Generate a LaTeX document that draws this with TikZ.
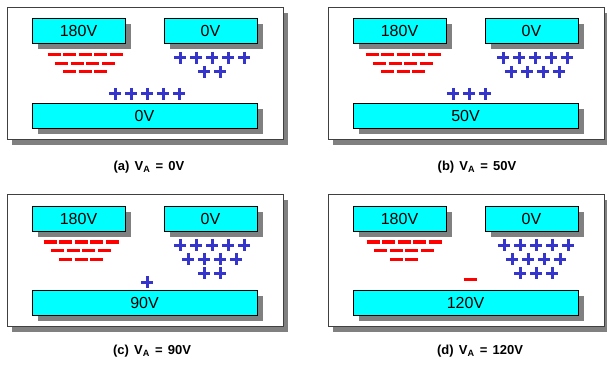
\documentclass[tikz,border=0pt]{standalone}
\usepackage{fontspec}
\setmainfont{Liberation Sans}
\usetikzlibrary{shadows, positioning}
\definecolor{platecyan}{HTML}{00FFFF}
\definecolor{chargeblue}{HTML}{3535CC}
\definecolor{chargered}{HTML}{FF0000}
\definecolor{shadowgray}{HTML}{808080}

\begin{document}
\begin{tikzpicture}[x=1pt, y=-1pt,
  panel/.style={rectangle, draw=black!75, line width=0.8pt, fill=white, minimum width=276pt, minimum height=132pt, inner sep=0pt, drop shadow={shadow xshift=5pt, shadow yshift=-6pt, fill=shadowgray, opacity=1}},
  plate/.style={rectangle, draw=black, line width=0.8pt, fill=platecyan, minimum height=25pt, inner sep=0pt, font=\fontsize{16}{16}\selectfont, drop shadow={shadow xshift=6pt, shadow yshift=-6pt, fill=shadowgray, opacity=1}},
  smallplate/.style={plate, minimum width=93pt},
  wideplate/.style={plate, minimum width=225pt},
  negcharge/.style={draw=chargered, line width=3pt},
  poscharge/.style={draw=chargeblue, line width=3pt},
  caption/.style={font=\fontsize{13}{13}\selectfont\bfseries}
]
\useasboundingbox (0,0) rectangle (607,371);

% (a) V_A = 0V
\begin{scope}[shift={(7,7)}]
\node[panel] (fa) at (138,66) {};
\node[smallplate] (a180) at (71.5,23.5) {180V};
\node[smallplate] (a0) at (203.5,23.5) {0V};
\node[wideplate] (aA) at (137.5,108.5) {0V};
\foreach \i in {0,...,4} \draw[negcharge] ({47+15.5*\i},48) +(-6.5,0) -- +(6.5,0);
\foreach \i in {0,...,3} \draw[negcharge] ({54.75+15.5*\i},56.5) +(-6.5,0) -- +(6.5,0);
\foreach \i in {0,...,2} \draw[negcharge] ({62.5+15.5*\i},65) +(-6.5,0) -- +(6.5,0);
\foreach \i in {0,...,4} \draw[poscharge] ({173+16*\i},51) +(-6,0) -- +(6,0) +(0,-6) -- +(0,6);
\foreach \i in {0,...,1} \draw[poscharge] ({197+16*\i},65) +(-6,0) -- +(6,0) +(0,-6) -- +(0,6);
\foreach \i in {0,...,4} \draw[poscharge] ({108+16*\i},87) +(-6,0) -- +(6,0) +(0,-6) -- +(0,6);
\end{scope}
\node[caption] (capa) at (149,167) {(a)\hspace{0.4em}V\textsubscript{A}\hspace{0.4em}=\hspace{0.4em}0V};

% (b) V_A = 50V
\begin{scope}[shift={(328,7)}]
\node[panel] (fb) at (138,66) {};
\node[smallplate] (b180) at (71.5,23.5) {180V};
\node[smallplate] (b0) at (203.5,23.5) {0V};
\node[wideplate] (bA) at (137.5,108.5) {50V};
\foreach \i in {0,...,4} \draw[negcharge] ({44+15.5*\i},48) +(-6.5,0) -- +(6.5,0);
\foreach \i in {0,...,3} \draw[negcharge] ({51.75+15.5*\i},56.5) +(-6.5,0) -- +(6.5,0);
\foreach \i in {0,...,2} \draw[negcharge] ({59.5+15.5*\i},65) +(-6.5,0) -- +(6.5,0);
\foreach \i in {0,...,4} \draw[poscharge] ({175+16*\i},51) +(-6,0) -- +(6,0) +(0,-6) -- +(0,6);
\foreach \i in {0,...,3} \draw[poscharge] ({183+16*\i},65) +(-6,0) -- +(6,0) +(0,-6) -- +(0,6);
\foreach \i in {0,...,2} \draw[poscharge] ({125+16*\i},87) +(-6,0) -- +(6,0) +(0,-6) -- +(0,6);
\end{scope}
\node[caption] (capb) at (477,167) {(b)\hspace{0.4em}V\textsubscript{A}\hspace{0.4em}=\hspace{0.4em}50V};

% (c) V_A = 90V
\begin{scope}[shift={(7,194)}]
\node[panel] (fc) at (138,66) {};
\node[smallplate] (c180) at (71.5,24.5) {180V};
\node[smallplate] (c0) at (203.5,24.5) {0V};
\node[wideplate] (cA) at (137.5,108.5) {90V};
\foreach \i in {0,...,4} \draw[negcharge] ({43+15.5*\i},48) +(-6.5,0) -- +(6.5,0);
\foreach \i in {0,...,3} \draw[negcharge] ({50.75+15.5*\i},56.5) +(-6.5,0) -- +(6.5,0);
\foreach \i in {0,...,2} \draw[negcharge] ({58.5+15.5*\i},65) +(-6.5,0) -- +(6.5,0);
\foreach \i in {0,...,4} \draw[poscharge] ({173+16*\i},51) +(-6,0) -- +(6,0) +(0,-6) -- +(0,6);
\foreach \i in {0,...,3} \draw[poscharge] ({181+16*\i},65) +(-6,0) -- +(6,0) +(0,-6) -- +(0,6);
\foreach \i in {0,...,1} \draw[poscharge] ({197+16*\i},79) +(-6,0) -- +(6,0) +(0,-6) -- +(0,6);
\draw[poscharge] (140,88) +(-6,0) -- +(6,0) +(0,-6) -- +(0,6);
\end{scope}
\node[caption] (capc) at (152,351) {(c)\hspace{0.4em}V\textsubscript{A}\hspace{0.4em}=\hspace{0.4em}90V};

% (d) V_A = 120V
\begin{scope}[shift={(328,194)}]
\node[panel] (fd) at (138,66) {};
\node[smallplate] (d180) at (71.5,24.5) {180V};
\node[smallplate] (d0) at (203.5,24.5) {0V};
\node[wideplate] (dA) at (137.5,108.5) {120V};
\foreach \i in {0,...,4} \draw[negcharge] ({45+15.5*\i},48) +(-6.5,0) -- +(6.5,0);
\foreach \i in {0,...,3} \draw[negcharge] ({52.75+15.5*\i},56.5) +(-6.5,0) -- +(6.5,0);
\foreach \i in {0,...,1} \draw[negcharge] ({68.25+15.5*\i},65) +(-6.5,0) -- +(6.5,0);
\draw[negcharge] (142,85) +(-6.5,0) -- +(6.5,0);
\foreach \i in {0,...,4} \draw[poscharge] ({176+16*\i},51) +(-6,0) -- +(6,0) +(0,-6) -- +(0,6);
\foreach \i in {0,...,3} \draw[poscharge] ({184+16*\i},65) +(-6,0) -- +(6,0) +(0,-6) -- +(0,6);
\foreach \i in {0,...,2} \draw[poscharge] ({192+16*\i},79) +(-6,0) -- +(6,0) +(0,-6) -- +(0,6);
\end{scope}
\node[caption] (capd) at (480,351) {(d)\hspace{0.4em}V\textsubscript{A}\hspace{0.4em}=\hspace{0.4em}120V};
\end{tikzpicture}
\end{document}
